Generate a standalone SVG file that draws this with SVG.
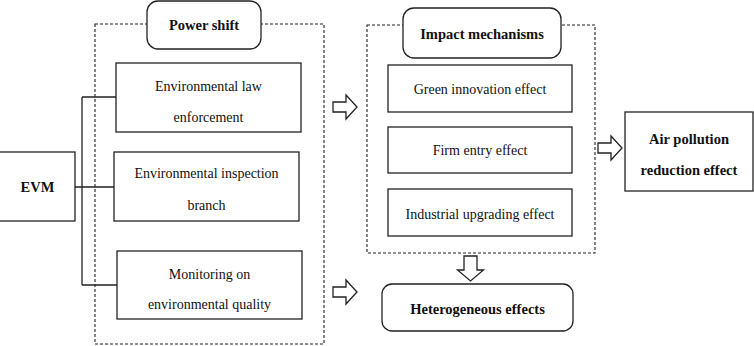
<svg xmlns="http://www.w3.org/2000/svg" width="754" height="346" viewBox="0 0 754 346">
<style>
.box{fill:#fff;stroke:#222;stroke-width:1.3}
.dash{fill:none;stroke:#222;stroke-width:1.1;stroke-dasharray:3,2}
text{font-family:'Liberation Serif','Times New Roman','DejaVu Serif',serif;font-size:14px;fill:#111;text-anchor:middle}
.b{font-weight:bold;font-size:14.5px}
.line{fill:none;stroke:#222;stroke-width:1.3}
.arr{fill:#fff;stroke:#222;stroke-width:1.3;stroke-linejoin:miter}
</style>
<defs>
<path id="ra" d="M0,-5 H13 V-12 L24,0 L13,12 V5 H0 Z"/>
<path id="da" d="M-6.5,0 V14 H-13 L0,25 L13,14 H6.5 V0 Z"/>
</defs>
<g id="groups">
<rect class="dash" x="95" y="24" width="229" height="320"/>
<rect class="dash" x="367" y="25" width="228" height="228"/>
</g>
<g id="connectors">
<path class="line" d="M82,97 V285 M82,97 H118 M75,187 H115 M82,285 H119"/>
<use href="#ra" class="arr" x="333" y="107"/>
<use href="#ra" class="arr" x="333" y="292"/>
<use href="#ra" class="arr" x="598" y="148"/>
<use href="#da" class="arr" x="470.5" y="256"/>
</g>
<g font-family="Liberation Serif, serif">
<g id="power-shift">
<rect class="box" x="147" y="1" width="114" height="48" rx="11"/>
<text class="b" x="204" y="30">Power shift</text>
</g>
<g id="law">
<rect class="box" x="116" y="63" width="185" height="69"/>
<text x="208.5" y="91">Environmental law</text>
<text x="208.5" y="122">enforcement</text>
</g>
<g id="inspection">
<rect class="box" x="114" y="152" width="185" height="69"/>
<text x="206.5" y="178">Environmental inspection</text>
<text x="206.5" y="210">branch</text>
</g>
<g id="monitoring">
<rect class="box" x="117" y="251" width="185" height="68"/>
<text x="209.5" y="279">Monitoring on</text>
<text x="209.5" y="309">environmental quality</text>
</g>
<g id="evm">
<rect class="box" x="-1" y="152" width="76" height="69"/>
<text class="b" x="37.5" y="192">EVM</text>
</g>
<g id="impact">
<rect class="box" x="403" y="8" width="158" height="50" rx="11"/>
<text class="b" x="482" y="39">Impact mechanisms</text>
</g>
<g id="green">
<rect class="box" x="388" y="65" width="184" height="47"/>
<text x="480" y="94">Green innovation effect</text>
</g>
<g id="firm">
<rect class="box" x="388" y="127" width="184" height="46"/>
<text x="480" y="155">Firm entry effect</text>
</g>
<g id="industrial">
<rect class="box" x="388" y="189" width="184" height="47"/>
<text x="480" y="219">Industrial upgrading effect</text>
</g>
<g id="heterogeneous">
<rect class="box" x="382" y="284" width="191" height="47" rx="10"/>
<text class="b" x="477.5" y="314">Heterogeneous effects</text>
</g>
<g id="air">
<rect class="box" x="625" y="112" width="128" height="79"/>
<text class="b" x="689" y="144">Air pollution</text>
<text class="b" x="689" y="175">reduction effect</text>
</g>
</g>
</svg>
